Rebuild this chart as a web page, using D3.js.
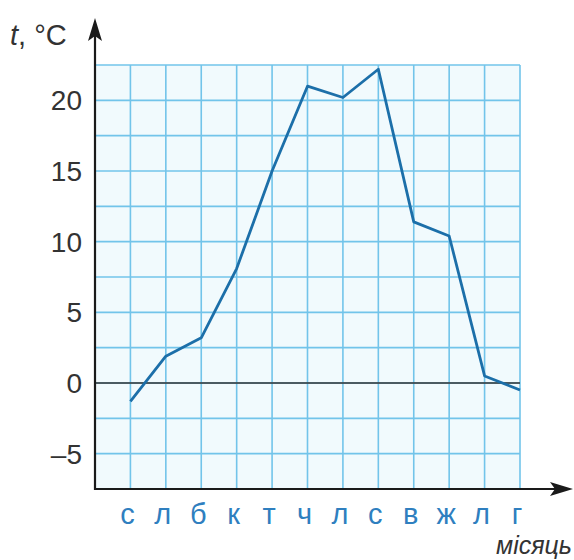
<!DOCTYPE html>
<html><head><meta charset="utf-8">
<script src="https://cdn.jsdelivr.net/npm/d3@7"></script>
<style>body{margin:0;background:#fff}svg{display:block}</style>
</head><body>
<svg id="c" width="574" height="560"></svg>
<script>
const months = ["с","л","б","к","т","ч","л","с","в","ж","л","г"];
const temps = [-1.3, 1.9, 3.2, 8.1, 15.0, 21.0, 20.2, 22.2, 11.4, 10.4, 0.5, -0.5];
const yTicks = [20, 15, 10, 5, 0, -5];
const yTickLabels = ["20","15","10","5","0","–5"];
const yGrid = [-5,-2.5,0,2.5,5,7.5,10,12.5,15,17.5,20,22.5];

const svg = d3.select("#c");
const x = d3.scaleLinear().domain([0, 12]).range([95, 520]);
const y = d3.scaleLinear().domain([-7.5, 22.5]).range([489, 65]);

// grid background
svg.append("rect").attr("x", x(0)).attr("y", y(22.5))
  .attr("width", x(12)-x(0)).attr("height", y(-7.5)-y(22.5)).attr("fill", "#f1fafd");

const grid = svg.append("g").attr("stroke", "#72c4ea").attr("stroke-width", 1.6);
grid.selectAll("line.h").data(yGrid).join("line")
  .attr("x1", x(0)).attr("x2", x(12)).attr("y1", d=>y(d)).attr("y2", d=>y(d));
grid.selectAll("line.v").data(d3.range(1,13)).join("line")
  .attr("x1", d=>x(d)).attr("x2", d=>x(d)).attr("y1", y(22.5)).attr("y2", y(-7.5));

// zero line
svg.append("line").attr("x1", x(0)).attr("x2", x(12)).attr("y1", y(0)).attr("y2", y(0))
  .attr("stroke", "#333").attr("stroke-width", 1.6);

// data line
svg.append("path").datum(temps)
  .attr("fill","none").attr("stroke","#1c6fa9").attr("stroke-width",2.8).attr("stroke-linejoin","round")
  .attr("d", d3.line().x((d,i)=>x(i+1)).y(d=>y(d)));

// axes
svg.append("line").attr("x1", x(0)).attr("x2", x(0)).attr("y1", y(-7.5)+1).attr("y2", 30)
  .attr("stroke","#1a1a1a").attr("stroke-width",2.2);
svg.append("line").attr("x1", x(0)-1).attr("x2", 560).attr("y1", y(-7.5)).attr("y2", y(-7.5))
  .attr("stroke","#1a1a1a").attr("stroke-width",2.2);
// arrowheads
svg.append("path").attr("d", `M${x(0)},18 L${x(0)-7},41 L${x(0)},36 L${x(0)+7},41 Z`).attr("fill","#1a1a1a");
svg.append("path").attr("d", `M573,${y(-7.5)} L550,${y(-7.5)-7} L555,${y(-7.5)} L550,${y(-7.5)+7} Z`).attr("fill","#1a1a1a");

// y tick labels
svg.append("g").selectAll("text").data(yTicks).join("text")
  .attr("x", 82).attr("y", d=>y(d)).attr("dy","0.36em").attr("text-anchor","end")
  .attr("font-family","Liberation Sans, Arial, sans-serif").attr("font-size",28).attr("fill","#333")
  .text((d,i)=>yTickLabels[i]);

// x labels
svg.append("g").selectAll("text").data(months).join("text")
  .attr("x", (d,i)=>x(i+1)-3).attr("y", 524).attr("text-anchor","middle")
  .attr("font-family","Liberation Sans, Arial, sans-serif").attr("font-size",29).attr("fill","#2f7fbf")
  .text(d=>d);

// axis titles
const t = svg.append("text").attr("x", 10).attr("y", 45)
  .attr("font-family","Liberation Sans, Arial, sans-serif").attr("font-size",29).attr("fill","#333");
t.append("tspan").attr("font-style","italic").text("t");
t.append("tspan").text(", °C");

svg.append("text").attr("x", 572).attr("y", 554).attr("text-anchor","end")
  .attr("font-family","Liberation Sans, Arial, sans-serif").attr("font-size",25).attr("font-style","italic").attr("fill","#333")
  .text("місяць");
</script>
</body></html>
